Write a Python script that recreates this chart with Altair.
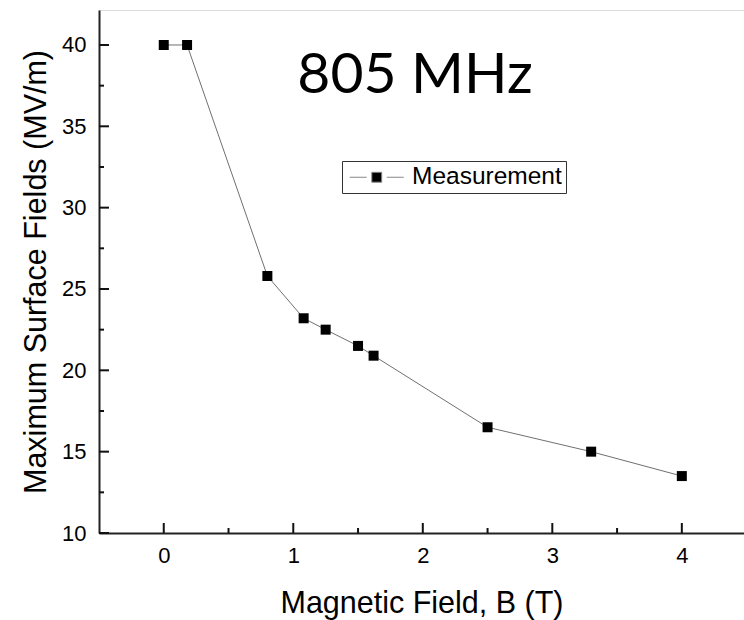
import altair as alt
import pandas as pd

# ---- data ----
field_B = [0.0, 0.18, 0.8, 1.08, 1.25, 1.5, 1.62, 2.5, 3.3, 4.0]
surface_E = [40.0, 40.0, 25.8, 23.2, 22.5, 21.5, 20.9, 16.5, 15.0, 13.5]
series_name = ["Measurement"] * len(field_B)

x_major = [0, 1, 2, 3, 4]
x_minor = [0.5, 1.5, 2.5, 3.5]
y_major = [10, 15, 20, 25, 30, 35, 40]
y_minor = [12.5, 17.5, 22.5, 27.5, 32.5, 37.5]

annot_x = [1.94]
annot_y = [38.1]
annot_text = ["805 MHz"]

X_DOMAIN = [-0.5, 4.48]
Y_DOMAIN = [10, 42.15]
X_TITLE = "Magnetic Field, B (T)"
Y_TITLE = "Maximum Surface Fields (MV/m)"

W, H = 645, 523
MAJOR_PX, MINOR_PX = 10, 5
x_per_px = (X_DOMAIN[1] - X_DOMAIN[0]) / W
y_per_px = (Y_DOMAIN[1] - Y_DOMAIN[0]) / H

df = pd.DataFrame({"B": field_B, "E": surface_E, "series": series_name})

x_scale = alt.Scale(domain=X_DOMAIN, nice=False, zero=False)
y_scale = alt.Scale(domain=Y_DOMAIN, nice=False, zero=False)

FONT = "Liberation Sans"

x_axis = alt.Axis(values=x_major, ticks=False, tickSize=0, grid=False,
                  labelFont=FONT, labelFontSize=22, labelColor="black",
                  labelPadding=12, labelFlush=False,
                  titleFont=FONT, titleFontSize=30.5, titleFontWeight="normal",
                  titleColor="black", titlePadding=22,
                  domainColor="#222", domainWidth=2)
y_axis = alt.Axis(values=y_major, ticks=False, tickSize=0, grid=False,
                  labelFont=FONT, labelFontSize=22, labelColor="black",
                  labelPadding=13, labelFlush=False,
                  titleFont=FONT, titleFontSize=30.5, titleFontWeight="normal",
                  titleColor="black", titlePadding=10,
                  domainColor="#222", domainWidth=2)


def xe(f):
    return alt.X(f, type="quantitative", scale=x_scale, axis=x_axis, title=X_TITLE)


def ye(f):
    return alt.Y(f, type="quantitative", scale=y_scale, axis=y_axis, title=Y_TITLE)


line = alt.Chart(df).mark_line(color="#707070", strokeWidth=1).encode(
    x=xe("B"), y=ye("E")
)

legend_path = ("M-2.35,0L-0.87,0M0.87,0L2.35,0"
               "M-0.43,-0.43L0.43,-0.43L0.43,0.43L-0.43,0.43Z")

points = alt.Chart(df).mark_point(shape="square", filled=True, size=100,
                                  opacity=1).encode(
    x=xe("B"), y=ye("E"),
    color=alt.Color("series:N", scale=alt.Scale(range=["black"]),
                    legend=alt.Legend(
                        title=None, orient="none", legendX=243, legendY=151,
                        symbolType=legend_path, symbolSize=529,
                        symbolOffset=18.5,
                        symbolStrokeColor="#888888", symbolStrokeWidth=1,
                        symbolFillColor="black",
                        labelFont=FONT, labelFontSize=24.5, labelColor="black",
                        labelOffset=23, padding=4,
                        strokeColor="#333", fillColor="white",
                    ))
)

ticks_xM = pd.DataFrame({"v": x_major, "a": [Y_DOMAIN[0]] * len(x_major),
                         "b": [Y_DOMAIN[0] + MAJOR_PX * y_per_px] * len(x_major)})
ticks_xm = pd.DataFrame({"v": x_minor, "a": [Y_DOMAIN[0]] * len(x_minor),
                         "b": [Y_DOMAIN[0] + MINOR_PX * y_per_px] * len(x_minor)})
ticks_yM = pd.DataFrame({"v": y_major, "a": [X_DOMAIN[0]] * len(y_major),
                         "b": [X_DOMAIN[0] + MAJOR_PX * x_per_px] * len(y_major)})
ticks_ym = pd.DataFrame({"v": y_minor, "a": [X_DOMAIN[0]] * len(y_minor),
                         "b": [X_DOMAIN[0] + MINOR_PX * x_per_px] * len(y_minor)})

rule_style = dict(color="#111", strokeWidth=2)
txM = alt.Chart(ticks_xM).mark_rule(**rule_style).encode(x=xe("v"), y=ye("a"), y2="b")
txm = alt.Chart(ticks_xm).mark_rule(**rule_style).encode(x=xe("v"), y=ye("a"), y2="b")
tyM = alt.Chart(ticks_yM).mark_rule(**rule_style).encode(y=ye("v"), x=xe("a"), x2="b")
tym = alt.Chart(ticks_ym).mark_rule(**rule_style).encode(y=ye("v"), x=xe("a"), x2="b")

annot = alt.Chart(pd.DataFrame({"x": annot_x, "y": annot_y, "t": annot_text})).mark_text(
    font="Lato", fontSize=57, fontWeight=400, align="center", baseline="middle",
    color="black"
).encode(x=xe("x"), y=ye("y"), text="t:N")

chart = alt.layer(line, points, txM, txm, tyM, tym, annot).properties(
    width=W, height=H,
    autosize=alt.AutoSizeParams(type="none"),
    padding={"left": 99, "top": 10, "right": 0, "bottom": 87},
).configure_view(stroke=None).configure(background="white")

chart.save("out.html", embed_options={"renderer": "svg", "actions": False})
